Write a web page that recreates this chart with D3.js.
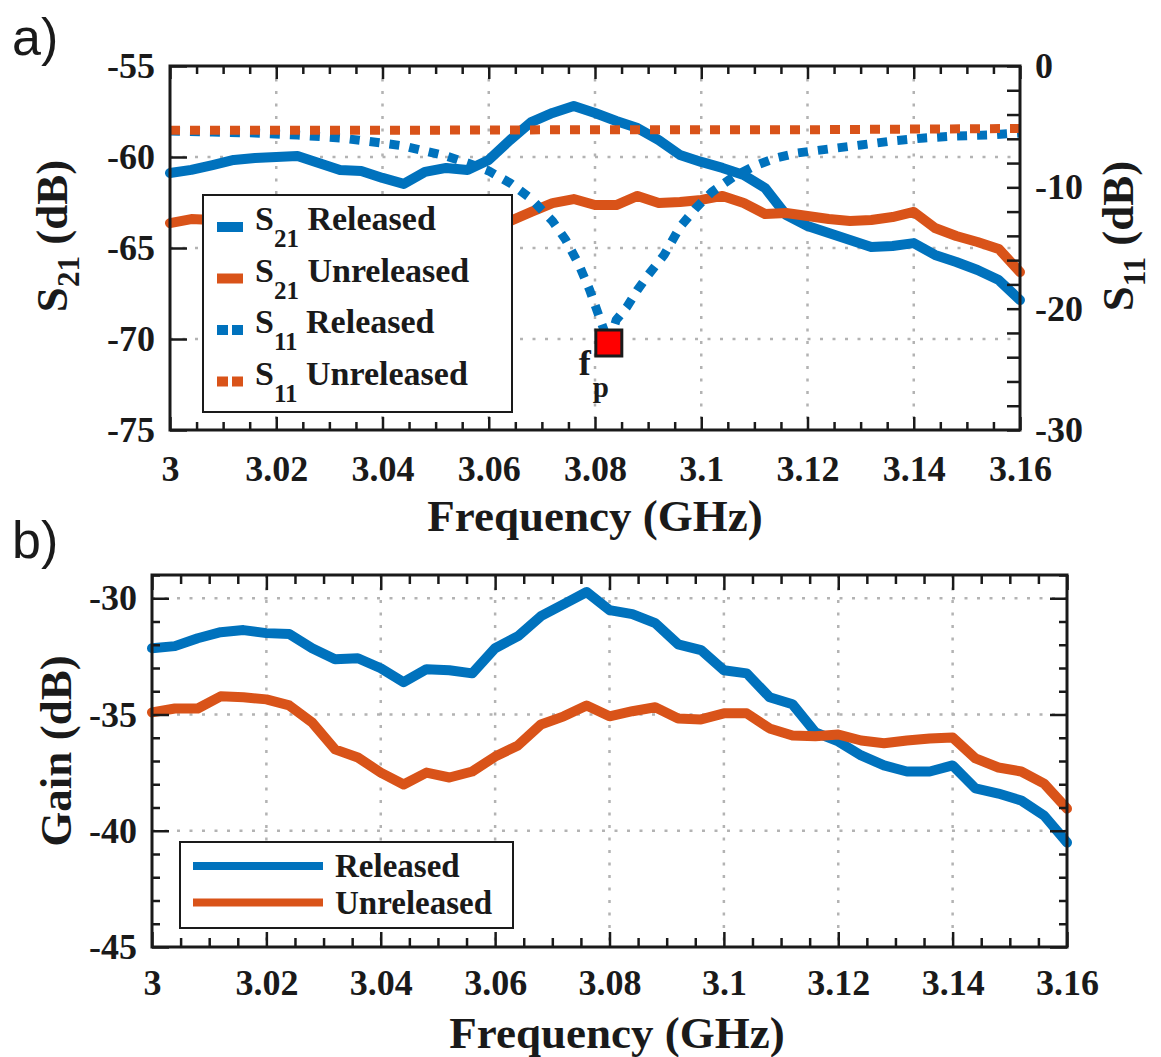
<!DOCTYPE html>
<html>
<head>
<meta charset="utf-8">
<script src="https://cdn.jsdelivr.net/npm/d3@7"></script>
<style>
  body { margin: 0; background: #fff; }
  svg { display: block; }
</style>
</head>
<body>
<div id="chart"></div>
<script>
// ---------- data ----------
const xTickValues = [3, 3.02, 3.04, 3.06, 3.08, 3.1, 3.12, 3.14, 3.16];
const xTickLabels = ["3", "3.02", "3.04", "3.06", "3.08", "3.1", "3.12", "3.14", "3.16"];
const s21TickValues = [-75, -70, -65, -60, -55];
const s11TickValues = [-30, -20, -10, 0];
const gainTickValues = [-45, -40, -35, -30];

const freq = [3.000, 3.004, 3.008, 3.012, 3.016, 3.020, 3.024, 3.028, 3.032, 3.036,
  3.040, 3.044, 3.048, 3.052, 3.056, 3.060, 3.064, 3.068, 3.072, 3.076,
  3.080, 3.084, 3.088, 3.092, 3.096, 3.100, 3.104, 3.108, 3.112, 3.116,
  3.120, 3.124, 3.128, 3.132, 3.136, 3.140, 3.144, 3.148, 3.152, 3.156, 3.160];

const s21Released = [-60.88, -60.71, -60.44, -60.16, -60.05, -60.00, -59.95, -60.33, -60.71, -60.77,
  -61.15, -61.48, -60.82, -60.60, -60.71, -60.16, -59.07, -58.08, -57.58, -57.20,
  -57.58, -58.02, -58.41, -59.07, -59.89, -60.27, -60.60, -60.99, -61.70, -63.19,
  -63.79, -64.18, -64.56, -64.95, -64.89, -64.73, -65.38, -65.77, -66.21, -66.76, -67.86];

const s21Unreleased = [-63.63, -63.41, -63.46, -63.52, -63.46, -63.41, -63.46, -63.68, -63.85, -63.96,
  -64.12, -64.29, -64.12, -64.07, -63.96, -63.74, -63.52, -63.02, -62.53, -62.31,
  -62.64, -62.64, -62.14, -62.53, -62.47, -62.36, -62.14, -62.53, -63.13, -63.08,
  -63.24, -63.41, -63.52, -63.46, -63.30, -63.02, -63.90, -64.34, -64.67, -65.05, -66.32];

const s11ReleasedFreq = [3.000, 3.008, 3.016, 3.024, 3.032, 3.040, 3.044, 3.048, 3.052, 3.056,
  3.060, 3.064, 3.068, 3.072, 3.0745, 3.077, 3.079, 3.081, 3.0826, 3.084,
  3.086, 3.088, 3.090, 3.093, 3.096, 3.099, 3.102, 3.106, 3.110, 3.114,
  3.118, 3.124, 3.130, 3.136, 3.142, 3.148, 3.154, 3.160];
const s11Released = [-5.36, -5.44, -5.52, -5.69, -5.93, -6.35, -6.59, -7.01, -7.42, -7.99,
  -8.65, -9.64, -10.96, -12.78, -14.34, -16.40, -18.46, -20.93, -22.83, -20.93,
  -19.86, -18.46, -17.23, -15.58, -13.27, -11.70, -10.38, -9.15, -8.24, -7.58,
  -7.17, -6.84, -6.51, -6.18, -5.93, -5.77, -5.69, -5.52];

const s11UnreleasedFreq = [3.000, 3.040, 3.080, 3.120, 3.160];
const s11Unreleased = [-5.30, -5.30, -5.25, -5.25, -5.15];

const gainReleased = [-32.15, -32.06, -31.72, -31.46, -31.37, -31.50, -31.54, -32.15, -32.62, -32.58,
  -33.01, -33.61, -33.05, -33.10, -33.23, -32.15, -31.63, -30.77, -30.25, -29.73,
  -30.51, -30.68, -31.07, -31.98, -32.23, -33.10, -33.23, -34.26, -34.56, -35.77,
  -36.16, -36.76, -37.19, -37.45, -37.45, -37.19, -38.18, -38.40, -38.70, -39.35, -40.51];

const gainUnreleased = [-34.91, -34.74, -34.74, -34.22, -34.26, -34.35, -34.61, -35.34, -36.50, -36.85,
  -37.50, -38.01, -37.50, -37.71, -37.45, -36.81, -36.33, -35.43, -35.08, -34.61,
  -35.08, -34.86, -34.69, -35.17, -35.21, -34.95, -34.95, -35.60, -35.90, -35.94,
  -35.86, -36.12, -36.24, -36.12, -36.03, -35.99, -36.89, -37.28, -37.45, -37.97, -39.05];

// ---------- setup ----------
const blue = "#0072BD", orange = "#D95319", ink = "#1a1a1a";
const serif = "'Liberation Serif', 'Times New Roman', serif";

const svg = d3.select("#chart").append("svg")
  .attr("width", 1161).attr("height", 1057)
  .style("font-family", serif).style("font-weight", "bold");

const zip = (xs, ys) => xs.map((x, i) => ({ x, y: ys[i] }));

// panel a
const xA = d3.scaleLinear().domain([3, 3.16]).range([170, 1020]);
const yA = d3.scaleLinear().domain([-75, -55]).range([430, 66]);
const yA2 = d3.scaleLinear().domain([-30, 0]).range([430, 66]);
// panel b
const xB = d3.scaleLinear().domain([3, 3.16]).range([152, 1067]);
const yB = d3.scaleLinear().domain([-45, -29]).range([947, 575]);

const minorX = d3.range(3, 3.1601, 0.005).filter(v => !xTickValues.some(t => Math.abs(t - v) < 1e-6));

function grid(x, y, xVals, yVals) {
  const g = svg.append("g")
    .attr("stroke", "#b3b3b3").attr("stroke-width", 2.5).attr("stroke-dasharray", "3,9.5");
  const [yb, yt] = y.range();
  const [xl, xr] = x.range();
  g.selectAll(null).data(xVals.slice(1, -1)).join("line")
    .attr("x1", d => x(d)).attr("x2", d => x(d)).attr("y1", yt).attr("y2", yb);
  g.selectAll(null).data(yVals.filter(v => y(v) > yt + 1 && y(v) < yb - 1)).join("line")
    .attr("x1", xl).attr("x2", xr).attr("y1", d => y(d)).attr("y2", d => y(d));
}

function styleAxis(g, fontSize) {
  g.select(".domain").remove();
  g.attr("font-family", null).attr("font-size", null);
  g.selectAll("line").attr("stroke", ink).attr("stroke-width", 2.5);
  g.selectAll("text").attr("fill", ink).style("font-size", fontSize + "px");
}

function addAxis(axis, tx, ty, fontSize = 36) {
  svg.append("g").attr("transform", `translate(${tx},${ty})`).call(axis).call(g => styleAxis(g, fontSize));
}

function frame(x, y) {
  const [xl, xr] = x.range();
  const [yb, yt] = y.range();
  svg.append("rect").attr("x", xl).attr("y", yt).attr("width", xr - xl).attr("height", yb - yt)
    .attr("fill", "none").attr("stroke", ink).attr("stroke-width", 3);
}

function drawLine(data, x, y, color, dotted) {
  svg.append("path").datum(data)
    .attr("fill", "none").attr("stroke", color)
    .attr("stroke-width", dotted ? 9 : 10)
    .attr("stroke-linejoin", "round")
    .attr("stroke-linecap", dotted ? "butt" : "round")
    .attr("stroke-dasharray", dotted ? "10,10" : null)
    .attr("d", d3.line().x(d => x(d.x)).y(d => y(d.y)));
}

function subLabel(text, main, sub, rest, size, subSize, shift) {
  text.append("tspan").text(main);
  text.append("tspan").style("font-size", subSize + "px").attr("dy", shift).text(sub);
  text.append("tspan").attr("dy", -shift).text(rest);
  return text.style("font-size", size + "px").attr("fill", ink);
}

// ---------- panel a ----------
grid(xA, yA, xTickValues, s21TickValues);

drawLine(zip(freq, s21Released), xA, yA, blue, false);
drawLine(zip(freq, s21Unreleased), xA, yA, orange, false);
const s11RelData = zip(s11ReleasedFreq, s11Released);
drawLine(s11RelData, xA, yA2, blue, true);
drawLine(zip(s11UnreleasedFreq, s11Unreleased), xA, yA2, orange, true);

// resonance marker at the S11 minimum
const fp = d3.least(s11RelData, d => d.y);
const fpX = xA(fp.x), fpY = yA2(fp.y);
svg.append("rect").attr("x", fpX - 13).attr("y", fpY - 13).attr("width", 26).attr("height", 26)
  .attr("fill", "#ff0000").attr("stroke", ink).attr("stroke-width", 3);
svg.append("text").attr("x", fpX - 30).attr("y", fpY + 32).style("font-size", "36px").attr("fill", ink).text("f");
svg.append("text").attr("x", fpX - 16).attr("y", fpY + 54).style("font-size", "29px").attr("fill", ink).text("p");

frame(xA, yA);
addAxis(d3.axisBottom(xA).tickValues(xTickValues).tickFormat((d, i) => xTickLabels[i]).tickSize(-13).tickPadding(25), 0, 430);
addAxis(d3.axisBottom(xA).tickValues(minorX).tickFormat("").tickSize(-8), 0, 430);
addAxis(d3.axisTop(xA).tickValues(xTickValues).tickFormat("").tickSize(-13), 0, 66);
addAxis(d3.axisTop(xA).tickValues(minorX).tickFormat("").tickSize(-8), 0, 66);
addAxis(d3.axisLeft(yA).tickValues(s21TickValues).tickFormat(d => String(d)).tickSize(-17).tickPadding(15), 170, 0);
addAxis(d3.axisRight(yA2).tickValues(d3.range(-30, 0.1, 2)).tickFormat(d => s11TickValues.includes(d) ? String(d) : "").tickSize(-13).tickPadding(15), 1020, 0);

svg.append("text").attr("x", 595).attr("y", 531).attr("text-anchor", "middle")
  .style("font-size", "45px").attr("fill", ink).text("Frequency (GHz)");
subLabel(svg.append("text").attr("transform", "translate(67,236) rotate(-90)").attr("text-anchor", "middle"),
  "S", "21", " (dB)", 45, 31, 12);
subLabel(svg.append("text").attr("transform", "translate(1133,236) rotate(-90)").attr("text-anchor", "middle"),
  "S", "11", " (dB)", 45, 31, 12);

// legend a
const legendA = [
  { sub: "21", label: " Released", color: blue, dotted: false },
  { sub: "21", label: " Unreleased", color: orange, dotted: false },
  { sub: "11", label: " Released", color: blue, dotted: true },
  { sub: "11", label: " Unreleased", color: orange, dotted: true }
];
const legA = svg.append("g").attr("transform", "translate(203,195)");
legA.append("rect").attr("width", 309).attr("height", 217).attr("fill", "#fff")
  .attr("stroke", ink).attr("stroke-width", 2);
legendA.forEach((d, i) => {
  const yy = 35 + i * 51.5;
  legA.append("line").attr("x1", 14).attr("x2", 40).attr("y1", yy - 3).attr("y2", yy - 3)
    .attr("stroke", d.color).attr("stroke-width", 10)
    .attr("stroke-dasharray", d.dotted ? "11,4" : null);
  subLabel(legA.append("text").attr("x", 52).attr("y", yy), "S", d.sub, d.label, 34, 25, 17);
});

// ---------- panel b ----------
grid(xB, yB, xTickValues, gainTickValues);
drawLine(zip(freq, gainReleased), xB, yB, blue, false);
drawLine(zip(freq, gainUnreleased), xB, yB, orange, false);

const minorG = d3.range(-45, -28.9, 1).filter(v => !gainTickValues.includes(v));
frame(xB, yB);
addAxis(d3.axisBottom(xB).tickValues(xTickValues).tickFormat((d, i) => xTickLabels[i]).tickSize(-15).tickPadding(22), 0, 947);
addAxis(d3.axisBottom(xB).tickValues(minorX).tickFormat("").tickSize(-9), 0, 947);
addAxis(d3.axisTop(xB).tickValues(xTickValues).tickFormat("").tickSize(-15), 0, 575);
addAxis(d3.axisTop(xB).tickValues(minorX).tickFormat("").tickSize(-9), 0, 575);
addAxis(d3.axisLeft(yB).tickValues(gainTickValues).tickFormat(d => String(d)).tickSize(-17).tickPadding(15), 152, 0);
addAxis(d3.axisLeft(yB).tickValues(minorG).tickFormat("").tickSize(-8), 152, 0);
addAxis(d3.axisRight(yB).tickValues(gainTickValues).tickFormat("").tickSize(-17), 1067, 0);
addAxis(d3.axisRight(yB).tickValues(minorG).tickFormat("").tickSize(-8), 1067, 0);

svg.append("text").attr("x", 617).attr("y", 1048).attr("text-anchor", "middle")
  .style("font-size", "45px").attr("fill", ink).text("Frequency (GHz)");
svg.append("text").attr("transform", "translate(71,751) rotate(-90)").attr("text-anchor", "middle")
  .style("font-size", "45px").attr("fill", ink).text("Gain (dB)");

// legend b
const legendB = [
  { label: "Released", color: blue },
  { label: "Unreleased", color: orange }
];
const legB = svg.append("g").attr("transform", "translate(180,842)");
legB.append("rect").attr("width", 333).attr("height", 86).attr("fill", "#fff")
  .attr("stroke", ink).attr("stroke-width", 2);
legendB.forEach((d, i) => {
  const yy = 35 + i * 36.5;
  legB.append("line").attr("x1", 13).attr("x2", 143).attr("y1", yy - 11).attr("y2", yy - 11)
    .attr("stroke", d.color).attr("stroke-width", 8);
  legB.append("text").attr("x", 155).attr("y", yy).style("font-size", "33px").attr("fill", ink).text(d.label);
});

// panel tags
svg.append("text").attr("x", 12).attr("y", 55).style("font-family", "'Liberation Sans', Arial, sans-serif")
  .style("font-weight", "normal").style("font-size", "52px").attr("fill", ink).text("a)");
svg.append("text").attr("x", 12).attr("y", 558).style("font-family", "'Liberation Sans', Arial, sans-serif")
  .style("font-weight", "normal").style("font-size", "52px").attr("fill", ink).text("b)");
</script>
</body>
</html>
